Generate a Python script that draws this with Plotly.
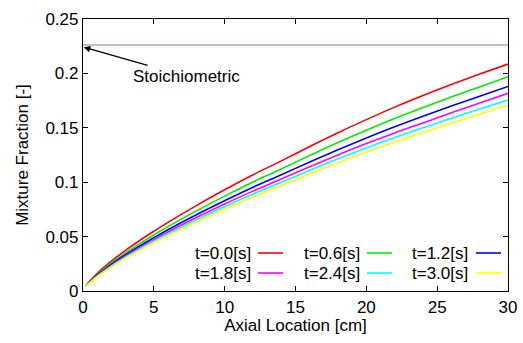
import plotly.graph_objects as go

axial_cm = [0.2, 1, 2, 3, 4, 5, 6, 8, 10, 12, 14, 16, 18, 20, 22, 24, 26, 28, 30]

z_t00 = [0.0048, 0.0162, 0.0274, 0.0373, 0.0464, 0.0549, 0.0631, 0.0785, 0.0930, 0.1068,
         0.1196, 0.1328, 0.1455, 0.1575, 0.1690, 0.1797, 0.1898, 0.1994, 0.2086]
z_t06 = [0.0046, 0.0152, 0.0257, 0.0350, 0.0435, 0.0515, 0.0592, 0.0736, 0.0872, 0.1002,
         0.1122, 0.1246, 0.1365, 0.1478, 0.1586, 0.1686, 0.1783, 0.1876, 0.1970]
z_t12 = [0.0045, 0.0145, 0.0245, 0.0333, 0.0414, 0.0490, 0.0563, 0.0701, 0.0830, 0.0954,
         0.1068, 0.1186, 0.1299, 0.1407, 0.1510, 0.1607, 0.1700, 0.1790, 0.1880]
z_t18 = [0.0044, 0.0139, 0.0236, 0.0321, 0.0399, 0.0472, 0.0543, 0.0675, 0.0800, 0.0918,
         0.1029, 0.1142, 0.1251, 0.1355, 0.1453, 0.1545, 0.1638, 0.1728, 0.1817]
z_t24 = [0.0043, 0.0135, 0.0229, 0.0311, 0.0387, 0.0458, 0.0527, 0.0655, 0.0777, 0.0892,
         0.0999, 0.1109, 0.1215, 0.1315, 0.1411, 0.1500, 0.1588, 0.1672, 0.1755]
z_t30 = [0.0042, 0.0131, 0.0222, 0.0302, 0.0376, 0.0445, 0.0511, 0.0636, 0.0753, 0.0865,
         0.0969, 0.1076, 0.1179, 0.1276, 0.1369, 0.1456, 0.1542, 0.1626, 0.1710]

series_names = ["t=0.0[s]", "t=0.6[s]", "t=1.2[s]", "t=1.8[s]", "t=2.4[s]", "t=3.0[s]"]
series_values = [z_t00, z_t06, z_t12, z_t18, z_t24, z_t30]
series_colors = ["#ff0000", "#00ee00", "#0000ff", "#ff00ff", "#00ffff", "#ffff00"]

stoich_value = 0.226
x_ticks = [0, 5, 10, 15, 20, 25, 30]
y_ticks = [0, 0.05, 0.1, 0.15, 0.2, 0.25]
y_tick_labels = ["0", "0.05", "0.1", "0.15", "0.2", "0.25"]

FONT = "Liberation Sans, Arial, sans-serif"
FS = 17

fig = go.Figure()

fig.add_trace(go.Scatter(x=[0, 30], y=[stoich_value, stoich_value], mode="lines",
                         line=dict(color="#8fbf8f", width=1.5), showlegend=False,
                         hoverinfo="skip"))

for name, vals, col in zip(series_names, series_values, series_colors):
    fig.add_trace(go.Scatter(x=axial_cm, y=vals, mode="lines", name=name,
                             line=dict(color=col, width=1.6, shape="spline"),
                             showlegend=False))

# Custom legend: text on left, line sample on right (2 rows x 3 cols)
L, R, T, B = 83, 15, 19, 52
W, H = 523, 343
pw, ph = W - L - R, H - T - B

def px_to_paper_x(px):
    return (px - L) / pw

def px_to_paper_y(py):
    return (H - B - py) / ph

col_text_right = [253, 362, 470]
col_line = [(258, 283), (367, 392), (476, 501)]
row_y = [253, 273]
for i, (name, col) in enumerate(zip(series_names, series_colors)):
    r, c = divmod(i, 3)
    fig.add_annotation(x=px_to_paper_x(col_text_right[c]), y=px_to_paper_y(row_y[r]),
                       xref="paper", yref="paper", text=name, showarrow=False,
                       xanchor="right", yanchor="middle",
                       font=dict(family=FONT, size=FS, color="black"))
    fig.add_shape(type="line", xref="paper", yref="paper",
                  x0=px_to_paper_x(col_line[c][0]), x1=px_to_paper_x(col_line[c][1]),
                  y0=px_to_paper_y(row_y[r]), y1=px_to_paper_y(row_y[r]),
                  line=dict(color=col, width=1.6))

fig.add_annotation(x=0.05, y=stoich_value - 0.002, xref="x", yref="y",
                   text="Stoichiometric", showarrow=True, arrowhead=2, arrowsize=1,
                   arrowwidth=1.3, arrowcolor="black", ax=103, ay=29,
                   font=dict(family=FONT, size=FS, color="black"))

fig.add_annotation(x=px_to_paper_x(156), y=px_to_paper_y(2), xref="paper", yref="paper",
                   text="(a)", showarrow=False, yanchor="bottom",
                   font=dict(family=FONT, size=FS, color="black"))

axis_common = dict(showline=True, linecolor="black", linewidth=1.2, mirror="ticks",
                   ticks="inside", ticklen=5, tickcolor="black", showgrid=False,
                   zeroline=False, automargin=False,
                   tickfont=dict(family=FONT, size=FS, color="black"))

fig.update_xaxes(range=[0, 30], tickvals=x_ticks,
                 title=dict(text="Axial Location [cm]", standoff=3,
                            font=dict(family=FONT, size=FS, color="black")),
                 **axis_common)
fig.update_yaxes(range=[0, 0.25], tickvals=y_ticks, ticktext=y_tick_labels,
                 title=dict(text="Mixture Fraction [-]", standoff=12,
                            font=dict(family=FONT, size=FS, color="black")),
                 **axis_common)

fig.update_layout(width=W, height=H, margin=dict(l=L, r=R, t=T, b=B),
                  paper_bgcolor="white", plot_bgcolor="white", showlegend=False)

fig.write_html("out.html")
